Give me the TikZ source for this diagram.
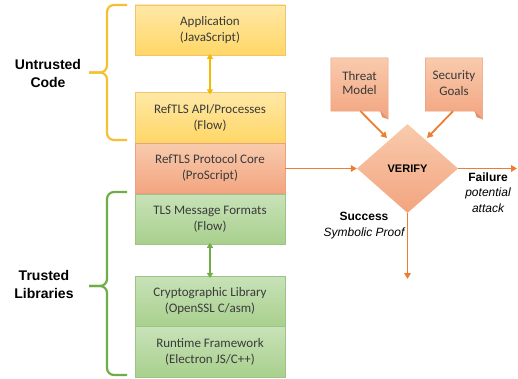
\documentclass[tikz,border=0pt]{standalone}
\usepackage{fontspec}
\setmainfont{Carlito}
\newfontfamily\arialf{Liberation Sans}
\usetikzlibrary{shapes.geometric,arrows.meta,backgrounds}
\definecolor{ytop}{HTML}{FFE8A6}
\definecolor{ybot}{HTML}{FFD766}
\definecolor{yline}{HTML}{F2C46E}
\definecolor{otop}{HTML}{F8CBAD}
\definecolor{obot}{HTML}{F3A47F}
\definecolor{oline}{HTML}{EBA080}
\definecolor{gtop}{HTML}{C8E2B8}
\definecolor{gbot}{HTML}{A8D08D}
\definecolor{gline}{HTML}{9CC485}
\definecolor{orarrow}{HTML}{ED7D31}
\definecolor{ybrace}{HTML}{F7C030}
\definecolor{gbrace}{HTML}{70AD47}
\definecolor{yarrow}{HTML}{F5B800}
\definecolor{txt}{HTML}{3A3A3A}
\definecolor{fold}{HTML}{E0906A}
\begin{document}
\begin{tikzpicture}[x=1pt,y=-1pt,
  layerbox/.style={rectangle, minimum width=150pt, minimum height=50.5pt, inner sep=0pt,
    align=center, font=\fontsize{13}{16}\selectfont, text=txt, line width=0.6pt},
  ybox/.style={layerbox, draw=yline, top color=ytop, bottom color=ybot},
  obox/.style={layerbox, draw=oline, top color=otop, bottom color=obot},
  gbox/.style={layerbox, draw=gline, top color=gtop, bottom color=gbot},
  notebox/.style={rectangle, minimum width=57pt, minimum height=53pt, inner sep=0pt,
    align=center, font=\fontsize{13}{16}\selectfont, text=txt},
  bracelbl/.style={align=center, font=\arialf\bfseries\fontsize{14}{18}\selectfont, text=black},
  outlbl/.style={align=center, font=\arialf\fontsize{12}{15.5}\selectfont, text=black},
  orarr/.style={draw=orarrow, line width=1.8pt, -{Triangle[length=6pt,width=6.5pt]}},
  dblarr/.style={line width=1.6pt, {Triangle[length=5pt,width=6pt]}-{Triangle[length=5pt,width=6pt]}},
  bracestyle/.style={line width=2.2pt, rounded corners=7pt}
]
\useasboundingbox (0,0) rectangle (518,379);

% layer boxes
\node[ybox] (app) at (210,30.25) {Application\\(JavaScript)};
\node[ybox] (api) at (210,118) {RefTLS API/Processes\\(Flow)};
\node[obox] (core) at (210,168.5) {RefTLS Protocol Core\\(ProScript)};
\node[gbox] (tms) at (210,219.25) {TLS Message Formats\\(Flow)};
\node[gbox] (crypto) at (210,301.5) {Cryptographic Library\\(OpenSSL C/asm)};
\node[gbox] (runtime) at (210,352) {Runtime Framework\\(Electron JS/C++)};

\draw[dblarr, draw=yarrow, fill=yarrow] ([yshift=2pt]app.south) -- ([yshift=-2pt]api.north);
\draw[dblarr, draw=gbrace, fill=gbrace] ([yshift=2pt]tms.south) -- ([yshift=-2pt]crypto.north);

% braces
\draw[bracestyle, draw=ybrace] (127,5) -- (107,5) -- (107,72.5) -- (89,72.5);
\draw[bracestyle, draw=ybrace] (127,140) -- (107,140) -- (107,72.5) -- (89,72.5);
\draw[bracestyle, draw=gbrace] (127,192) -- (107,192) -- (107,286) -- (89,286);
\draw[bracestyle, draw=gbrace] (127,375) -- (107,375) -- (107,286) -- (89,286);

\node[bracelbl] (untrusted) at (48,73) {Untrusted\\Code};
\node[bracelbl] (trusted) at (44,284.5) {Trusted\\Libraries};

% notes
\node[notebox] (threat) at (359.5,84.5) {\raisebox{3pt}{\shortstack{Threat\\[1pt]Model}}};
\node[notebox] (goals) at (454,84.5) {\raisebox{3pt}{\shortstack{Security\\[1pt]Goals}}};
\begin{scope}[on background layer]
\foreach \n in {threat,goals}{
  \shade[top color=otop, bottom color=obot, draw=oline, line width=0.5pt]
    (\n.north west) -- (\n.north east) -- ([yshift=-8pt]\n.south east)
    -- ([xshift=-8pt]\n.south east) -- (\n.south west) -- cycle;
  \fill[fold] ([yshift=-8pt]\n.south east) -- ([xshift=-8pt]\n.south east)
    -- ([xshift=-6pt,yshift=-6pt]\n.south east) -- cycle;
}
\end{scope}

% verify diamond
\node[diamond, aspect=1.13, minimum width=101pt, minimum height=89pt, inner sep=0pt,
  top color=otop, bottom color=obot, draw=none,
  font=\arialf\bfseries\fontsize{11}{13}\selectfont, text=black] (verify) at (407.5,168.5) {VERIFY};

\coordinate (failend) at (517,168.5);
\coordinate (succend) at (407.5,279);

\draw[orarr] (core.east) -- (verify.west);
\draw[orarr] ([xshift=1pt]threat.south) -- (387,138);
\draw[orarr] ([xshift=-1pt]goals.south) -- (427,138);
\draw[orarr] (verify.east) -- (failend);
\draw[orarr] (verify.south) -- (succend);

\node[outlbl] (failure) at (488,192.5) {{\bfseries Failure}\\{\itshape potential}\\{\itshape attack}};
\node[outlbl] (success) at (364,225.5) {{\bfseries Success}\\{\itshape Symbolic Proof}};
\end{tikzpicture}
\end{document}
